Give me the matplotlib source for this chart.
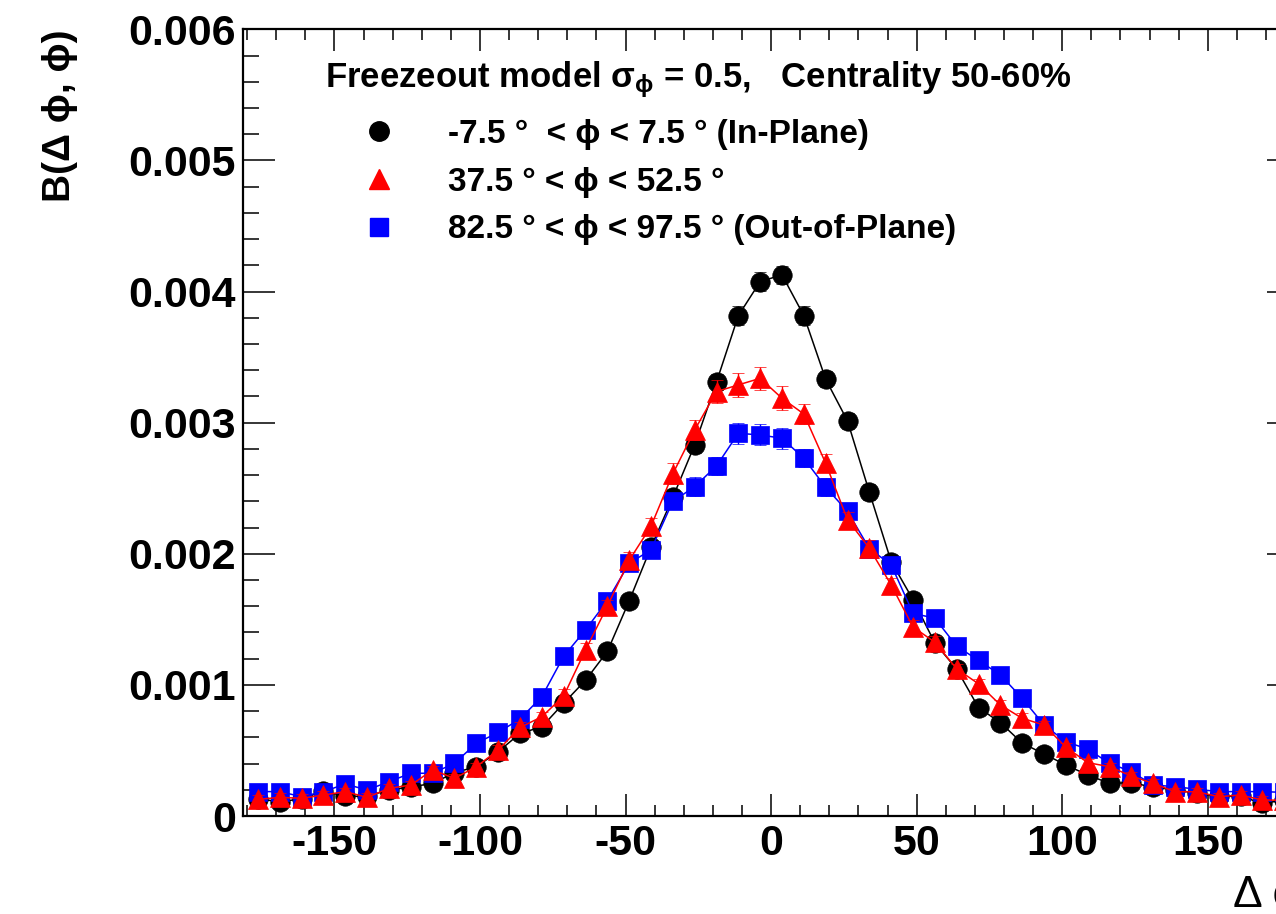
import matplotlib
matplotlib.use('Agg')
import matplotlib.pyplot as plt
from matplotlib.lines import Line2D
from matplotlib.ticker import MultipleLocator, FixedLocator, FixedFormatter
import numpy as np

plt.rcParams['font.family'] = ['Liberation Sans', 'DejaVu Sans']
plt.rcParams['font.weight'] = 'bold'
plt.rcParams['axes.unicode_minus'] = False
plt.rcParams['mathtext.fontset'] = 'dejavusans'
plt.rcParams['mathtext.default'] = 'regular'

# ---------------- data ----------------
dphi = [-176.25, -168.75, -161.25, -153.75, -146.25, -138.75, -131.25, -123.75,
        -116.25, -108.75, -101.25, -93.75, -86.25, -78.75, -71.25, -63.75,
        -56.25, -48.75, -41.25, -33.75, -26.25, -18.75, -11.25, -3.75,
        3.75, 11.25, 18.75, 26.25, 33.75, 41.25, 48.75, 56.25,
        63.75, 71.25, 78.75, 86.25, 93.75, 101.25, 108.75, 116.25,
        123.75, 131.25, 138.75, 146.25, 153.75, 161.25, 168.75, 176.25]

# values in units of 1e-3
in_plane = [0.13, 0.11, 0.13, 0.19, 0.15, 0.15, 0.20, 0.22,
            0.25, 0.33, 0.376, 0.49, 0.63, 0.68, 0.86, 1.035,
            1.255, 1.64, 2.05, 2.43, 2.83, 3.31, 3.816, 4.076,
            4.127, 3.816, 3.331, 3.013, 2.47, 1.94, 1.65, 1.32,
            1.12, 0.827, 0.712, 0.556, 0.473, 0.389, 0.313, 0.249,
            0.254, 0.22, 0.20, 0.173, 0.15, 0.15, 0.097, 0.12]
in_plane_err = [0.03, 0.03, 0.03, 0.03, 0.03, 0.03, 0.03, 0.03,
                0.03, 0.03, 0.03, 0.03, 0.04, 0.04, 0.04, 0.04,
                0.05, 0.05, 0.05, 0.06, 0.06, 0.06, 0.07, 0.07,
                0.07, 0.07, 0.06, 0.06, 0.06, 0.05, 0.05, 0.05,
                0.04, 0.04, 0.04, 0.04, 0.03, 0.03, 0.03, 0.03,
                0.03, 0.03, 0.03, 0.03, 0.03, 0.03, 0.03, 0.03]

mid_plane = [0.127, 0.142, 0.135, 0.160, 0.186, 0.142, 0.211, 0.236,
             0.351, 0.287, 0.376, 0.503, 0.675, 0.757, 0.915, 1.266,
             1.60, 1.95, 2.21, 2.61, 2.944, 3.237, 3.288, 3.338,
             3.186, 3.066, 2.690, 2.26, 2.042, 1.762, 1.442, 1.325,
             1.122, 1.008, 0.847, 0.745, 0.694, 0.525, 0.407, 0.376,
             0.305, 0.249, 0.185, 0.185, 0.147, 0.160, 0.122, 0.12]
mid_plane_err = [0.03, 0.03, 0.03, 0.03, 0.03, 0.03, 0.03, 0.03,
                 0.03, 0.03, 0.03, 0.04, 0.04, 0.04, 0.05, 0.05,
                 0.05, 0.06, 0.06, 0.08, 0.08, 0.09, 0.09, 0.09,
                 0.09, 0.08, 0.07, 0.06, 0.06, 0.05, 0.05, 0.05,
                 0.04, 0.04, 0.04, 0.04, 0.03, 0.03, 0.03, 0.03,
                 0.03, 0.03, 0.03, 0.03, 0.03, 0.03, 0.03, 0.03]

out_plane = [0.186, 0.186, 0.147, 0.186, 0.244, 0.198, 0.262, 0.326,
             0.326, 0.402, 0.555, 0.637, 0.74, 0.91, 1.218, 1.419,
             1.642, 1.927, 2.03, 2.40, 2.512, 2.670, 2.919, 2.906,
             2.881, 2.728, 2.507, 2.323, 2.04, 1.915, 1.546, 1.508,
             1.295, 1.187, 1.076, 0.898, 0.694, 0.567, 0.51, 0.402,
             0.338, 0.236, 0.224, 0.204, 0.186, 0.186, 0.186, 0.18]
out_plane_err = [0.03, 0.03, 0.03, 0.03, 0.03, 0.03, 0.03, 0.03,
                 0.03, 0.03, 0.03, 0.04, 0.04, 0.04, 0.05, 0.05,
                 0.05, 0.06, 0.06, 0.06, 0.07, 0.07, 0.08, 0.08,
                 0.08, 0.07, 0.07, 0.06, 0.06, 0.05, 0.05, 0.05,
                 0.04, 0.04, 0.04, 0.04, 0.03, 0.03, 0.03, 0.03,
                 0.03, 0.03, 0.03, 0.03, 0.03, 0.03, 0.03, 0.03]

series_labels = ["-7.5 \u00b0  < \u03d5 < 7.5 \u00b0 (In-Plane)",
                 "37.5 \u00b0 < \u03d5 < 52.5 \u00b0",
                 "82.5 \u00b0 < \u03d5 < 97.5 \u00b0 (Out-of-Plane)"]
legend_title = r"Freezeout model $\sigma_{\phi}$ = 0.5,   Centrality 50-60%"

xticks = [-150, -100, -50, 0, 50, 100, 150]
yticks = [0.0, 0.001, 0.002, 0.003, 0.004, 0.005, 0.006]
ytick_labels = ["0", "0.001", "0.002", "0.003", "0.004", "0.005", "0.006"]

# ---------------- figure ----------------
W, H = 1276, 914
fig = plt.figure(figsize=(W / 100, H / 100), dpi=100)
ax_l, ax_r, ax_b, ax_t = 242.7, 1299.5, 816.0, 29.3
ax = fig.add_axes([ax_l / W, (H - ax_b) / H, (ax_r - ax_l) / W, (ax_b - ax_t) / H])

scale = 1e-3
x = np.array(dphi)
styles = [
    (in_plane, in_plane_err, 'o', '#000000', 14, 2),
    (out_plane, out_plane_err, 's', '#0000ff', 13, 3),
    (mid_plane, mid_plane_err, '^', '#ff0000', 14, 4),
]
for vals, errs, mk, col, ms, z in styles:
    ax.errorbar(x, np.array(vals) * scale, yerr=np.array(errs) * scale,
                fmt=mk + '-', color=col, ms=ms, mew=0.5, mec=col, lw=1.1,
                elinewidth=1.0, capsize=4, capthick=1.0, zorder=z)

ax.set_xlim(-181.5, 181.5)
ax.set_ylim(0, 0.006)
ax.xaxis.set_major_locator(FixedLocator(xticks))
ax.xaxis.set_minor_locator(MultipleLocator(10))
ax.yaxis.set_major_locator(FixedLocator(yticks))
ax.yaxis.set_major_formatter(FixedFormatter(ytick_labels))
ax.yaxis.set_minor_locator(MultipleLocator(0.0002))

ax.tick_params(which='both', direction='in', top=True, right=True, width=1.1)
ax.tick_params(axis='x', which='major', length=15.8, pad=6.0, labelsize=31)
ax.tick_params(axis='x', which='minor', length=7.9)
ax.tick_params(axis='y', which='major', length=23, pad=5, labelsize=31)
ax.tick_params(axis='y', which='minor', length=11.5)
for lbl in ax.get_xticklabels() + ax.get_yticklabels():
    lbl.set_fontweight('bold')
for sp in ax.spines.values():
    sp.set_linewidth(1.6)

# legend (markers only)
handles = [Line2D([], [], marker='o', color='#000000', ls='none', ms=14),
           Line2D([], [], marker='^', color='#ff0000', ls='none', ms=14),
           Line2D([], [], marker='s', color='#0000ff', ls='none', ms=13)]
fs_leg = 24
leg = ax.legend(handles, series_labels, loc='upper left',
                bbox_to_anchor=(325 / W, 1 - 119 / H), bbox_transform=fig.transFigure,
                frameon=False, borderpad=0, borderaxespad=0,
                handlelength=3.24, handletextpad=0.45, labelspacing=0.50,
                prop={'weight': 'bold', 'size': fs_leg})

fig.text(325 / W, 1 - 87 / H, legend_title, fontsize=25, fontweight='bold',
         ha='left', va='baseline')

# axis titles
fig.text(60 / W, 1 - 30 / H, "B(\u0394 \u03d5, \u03d5)", rotation=90, ha='center', va='top',
         fontsize=28, fontweight='bold')
fig.text(1233 / W, (H - 907) / H, "\u0394 \u03d5 (deg)", ha='left', va='baseline',
         fontsize=32, fontweight='normal', family=['Liberation Sans', 'DejaVu Sans'])

fig.savefig('out.png', dpi=100)
